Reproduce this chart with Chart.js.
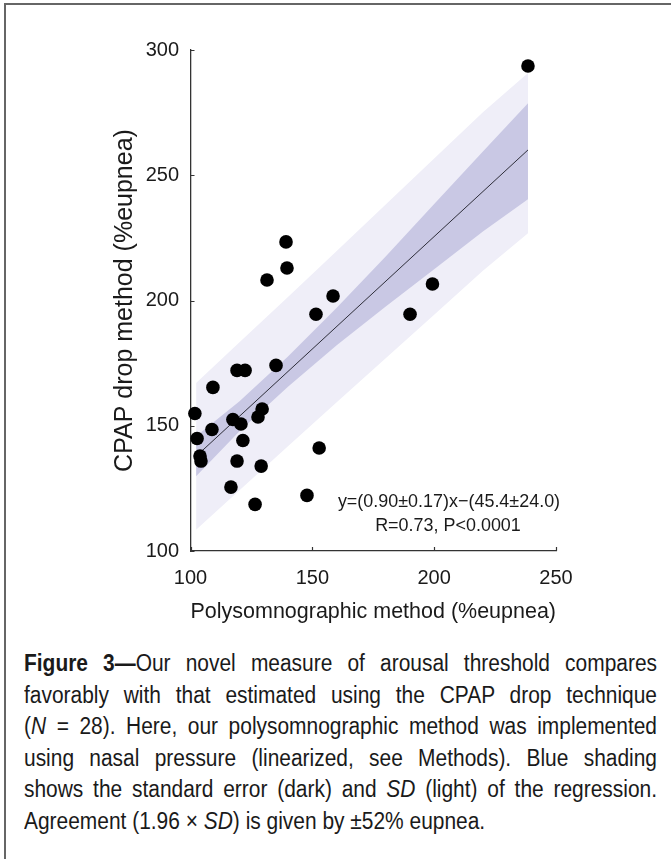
<!DOCTYPE html>
<html>
<head>
<meta charset="utf-8">
<title>Figure 3</title>
<script src="https://cdn.jsdelivr.net/npm/chart.js@4/dist/chart.umd.min.js"></script>
<style>
html, body { margin: 0; padding: 0; background: #fff; }
body { width: 671px; height: 859px; position: relative; overflow: hidden; }
#frame { position: absolute; left: 4px; top: 3px; right: 0; bottom: 0; border-top: 2px solid #666; border-left: 2px solid #666; }
#chartBox { position: absolute; left: 0; top: 0; width: 671px; height: 640px; }
.fit { position: absolute; font-family: "Liberation Sans", Arial, sans-serif; font-size: 18.5px; color: #1a1a1a; white-space: nowrap; transform: translate(-50%, -50%) scaleX(0.97); }
#caption { position: absolute; left: 24px; top: 648px; width: 695.6px; font-family: "Liberation Sans", Arial, sans-serif; font-size: 23px; line-height: 31.6px; color: #1a1a1a; transform: scaleX(0.91); transform-origin: 0 0; }
#caption div { text-align: justify; text-align-last: justify; white-space: nowrap; }
#caption div.last { text-align-last: left; }
</style>
</head>
<body>
<div id="frame"></div>
<div id="chartBox"><canvas id="Chart"></canvas></div>
<div class="fit" style="left:449px; top:501px;">y=(0.90±0.17)x−(45.4±24.0)</div>
<div class="fit" style="left:448px; top:525px;">R=0.73, P&lt;0.0001</div>
<div id="caption">
  <div><b>Figure 3—</b>Our novel measure of arousal threshold compares</div>
  <div>favorably with that estimated using the CPAP drop technique</div>
  <div>(<i>N</i> = 28). Here, our polysomnographic method was implemented</div>
  <div>using nasal pressure (linearized, see Methods). Blue shading</div>
  <div>shows the standard error (dark) and <i>SD</i> (light) of the regression.</div>
  <div class="last">Agreement (1.96 × <i>SD</i>) is given by ±52% eupnea.</div>
</div>
<script>
//Subjects: polysomnographic estimate (x) against CPAP drop estimate (y), %eupnea
const psgValues = [238.5, 139.2, 139.6, 131.4, 158.5, 199.3, 151.5, 190.1, 135.1, 119.1,
    122.4, 109.2, 101.8, 108.8, 117.4, 120.7, 129.4, 127.7, 102.7, 121.5,
    103.9, 104.3, 119.1, 129.0, 152.8, 116.6, 147.8, 126.5];
const cpapValues = [293.6, 223.4, 213.0, 208.2, 201.8, 206.6, 194.5, 194.5, 174.1, 172.1,
    172.1, 165.3, 154.9, 148.5, 152.5, 150.7, 156.7, 153.5, 144.9, 144.1,
    137.9, 135.9, 135.9, 133.9, 141.1, 125.5, 122.2, 118.6];

//Regression line end points
const fitX = [102.3, 238.5];
const fitY = [137.8, 260.1];

//Shading edges read along x: SD (light) and standard error (dark)
const bandX = [102.3, 120, 140, 160, 180, 200, 220, 238.5];
const sdUpper = [167.1, 183.2, 201.4, 219.8, 238.2, 256.7, 275.1, 290.8];
const sdLower = [108.5, 124.2, 141.8, 159.4, 176.8, 194.3, 211.9, 226.8];
const seUpper = [145.8, 159.7, 177.6, 197.1, 217.5, 238.5, 259.5, 278.7];
const seLower = [129.8, 147.7, 165.6, 182.1, 197.5, 212.5, 227.5, 240.4];

const xTicks = [100, 150, 200, 250];
const yTicks = [100, 150, 200, 250, 300];

const axisColor = '#333';
const textColor = '#1a1a1a';
const fontFamily = '"Liberation Sans", Arial, sans-serif';

function toPoints(xs, ys) {
    return xs.map(function (x, i) {
        return {x: x, y: ys[i]};
    });
}

function band(values, color, fillTo, order) {
    return {
        data: toPoints(bandX, values),
        showLine: true,
        borderWidth: 0,
        pointRadius: 0,
        backgroundColor: color,
        fill: fillTo,
        order: order
    };
}

//Tick marks point into the plot, as in the original figure
const inwardTicks = {
    id: 'inwardTicks',
    afterDraw: function (chart) {
        const ctx = chart.ctx;
        const area = chart.chartArea;
        const x = chart.scales.x;
        const y = chart.scales.y;
        ctx.save();
        ctx.strokeStyle = axisColor;
        ctx.lineWidth = 1.2;
        ctx.beginPath();
        y.ticks.forEach(function (t) {
            const py = Math.round(y.getPixelForValue(t.value)) + 0.5;
            ctx.moveTo(area.left, py);
            ctx.lineTo(area.left + 4, py);
        });
        x.ticks.forEach(function (t) {
            const px = Math.round(x.getPixelForValue(t.value)) + 0.5;
            ctx.moveTo(px, area.bottom);
            ctx.lineTo(px, area.bottom - 4);
        });
        ctx.stroke();
        ctx.restore();
    }
};

const config = {
    type: 'line',
    data: {
        datasets: [{
            data: toPoints(psgValues, cpapValues),
            showLine: false,
            pointRadius: 6.8,
            pointBorderWidth: 0,
            pointBackgroundColor: '#000',
            clip: false,
            order: 0
        }, {
            data: toPoints(fitX, fitY),
            showLine: true,
            borderColor: '#2e2e3a',
            borderWidth: 1,
            pointRadius: 0,
            fill: false,
            order: 1
        },
            band(seUpper, '#c9c8e4', '+1', 2),
            band(seLower, '#c9c8e4', false, 2),
            band(sdUpper, '#efeef8', '+1', 3),
            band(sdLower, '#efeef8', false, 3)
        ]
    },
    options: {
        responsive: true,
        maintainAspectRatio: false,
        animation: false,
        events: [],
        layout: {padding: {left: 0, top: 50, right: 115, bottom: 0}},
        plugins: {legend: {display: false}, tooltip: {enabled: false}},
        scales: {
            x: {
                type: 'linear',
                min: 100,
                max: 250,
                afterBuildTicks: function (scale) {
                    scale.ticks = xTicks.map(function (v) { return {value: v}; });
                },
                afterFit: function (scale) { scale.height = 89; },
                grid: {display: false, drawTicks: false},
                border: {display: true, color: axisColor, width: 1.3},
                ticks: {color: textColor, padding: 15, font: {family: fontFamily, size: 20}},
                title: {
                    display: true,
                    text: 'Polysomnographic method (%eupnea)',
                    color: textColor,
                    font: {family: fontFamily, size: 21.5},
                    padding: {top: 0, bottom: 15}
                }
            },
            y: {
                type: 'linear',
                min: 100,
                max: 300,
                afterBuildTicks: function (scale) {
                    scale.ticks = yTicks.map(function (v) { return {value: v}; });
                },
                afterFit: function (scale) { scale.width = 190.5; },
                grid: {display: false, drawTicks: false},
                border: {display: true, color: axisColor, width: 1.3},
                ticks: {color: textColor, padding: 11.5, font: {family: fontFamily, size: 20}},
                title: {
                    display: true,
                    text: 'CPAP drop method (%eupnea)',
                    color: textColor,
                    font: {family: fontFamily, size: 25},
                    padding: {top: 110, bottom: 0}
                }
            }
        }
    },
    plugins: [inwardTicks]
};

window.onload = function () {
    window.myChart = new Chart(document.getElementById('Chart').getContext('2d'), config);
};
</script>
</body>
</html>
